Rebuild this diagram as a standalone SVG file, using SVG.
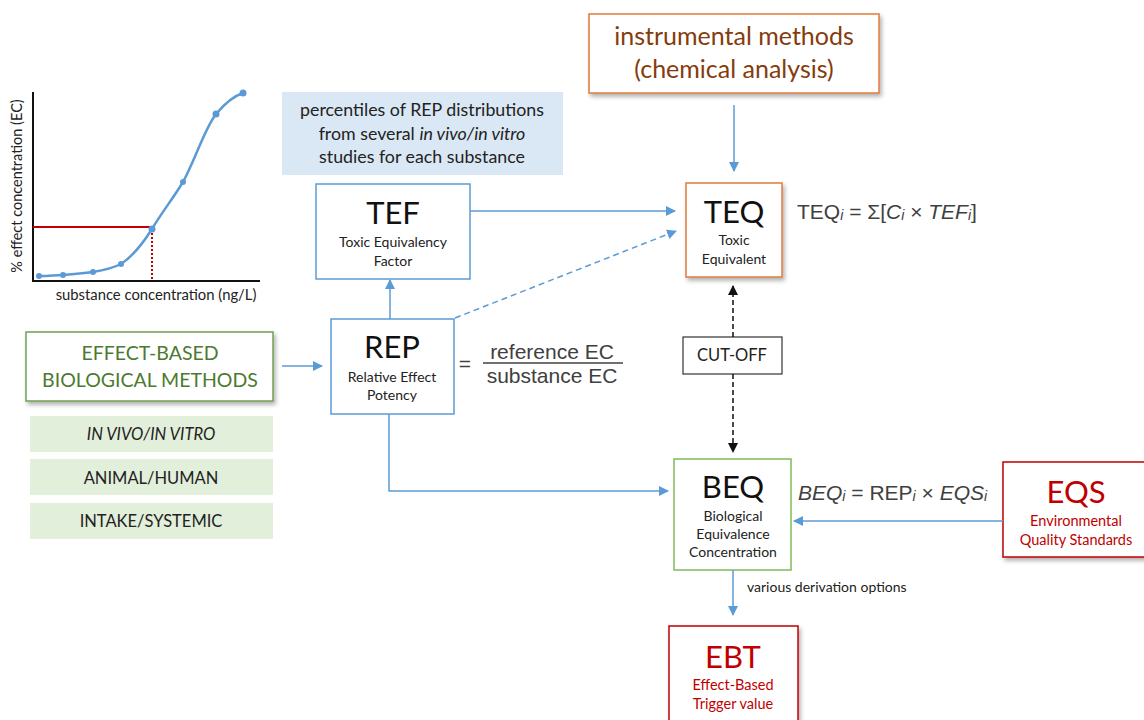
<svg xmlns="http://www.w3.org/2000/svg" width="1144" height="720" viewBox="0 0 1144 720">
<style>
text{font-family:Lato,"Open Sans","Liberation Sans",sans-serif;text-anchor:middle}
.big{font-size:31px;fill:#111}
.small{font-size:14px;fill:#222}
.f{font-family:"Liberation Sans",Arial,sans-serif;font-size:21px;fill:#404040;text-anchor:start}
.box{fill:#fff}
.blue{stroke:#5b9bd5;stroke-width:1.5}
.conn{stroke:#5b9bd5;stroke-width:1.5;fill:none}
.green{fill:#e2efda}
.gt{font-size:16.5px;fill:#222}
</style>
<defs>
<marker id="ab" viewBox="0 0 10 10" refX="9" refY="5" markerWidth="10" markerHeight="10" markerUnits="userSpaceOnUse" orient="auto"><path d="M0,0 L10,5 L0,10 z" fill="#5b9bd5"/></marker>
<marker id="ak" viewBox="0 0 10 10" refX="9" refY="5" markerWidth="10" markerHeight="10" markerUnits="userSpaceOnUse" orient="auto"><path d="M0,0 L10,5 L0,10 z" fill="#111"/></marker>
<filter id="sh" x="-10%" y="-10%" width="130%" height="140%"><feDropShadow dx="2" dy="3" stdDeviation="2" flood-color="#000" flood-opacity="0.3"/></filter>
</defs>

<g id="chart">
<line x1="33" y1="92" x2="33" y2="282" stroke="#111" stroke-width="2"/>
<line x1="32" y1="281" x2="260" y2="281" stroke="#111" stroke-width="2"/>
<line x1="33" y1="227" x2="152" y2="227" stroke="#c00000" stroke-width="2"/>
<line x1="152" y1="229" x2="152" y2="281" stroke="#c00000" stroke-width="2" stroke-dasharray="2,2"/>
<path d="M39,276 C50,276 55,275 63,275 C75,274 85,273 93,272 C105,270 113,268 121,264 C135,255 145,240 152,229 C162,212 172,200 183,182 C196,158 204,130 216,114 C226,102 234,96 243,93" fill="none" stroke="#5b9bd5" stroke-width="2.5"/>
<g fill="#5b9bd5">
<circle cx="39" cy="276" r="3"/><circle cx="63" cy="275" r="3"/><circle cx="93" cy="272" r="3"/><circle cx="121" cy="264" r="3"/><circle cx="152" cy="229" r="3.5"/><circle cx="183" cy="182" r="3"/><circle cx="216" cy="114" r="3.5"/><circle cx="243" cy="93" r="3.5"/>
</g>
<text x="156" y="300" style="font-size:14.8px;fill:#222">substance concentration (ng/L)</text>
<text transform="translate(22,186) rotate(-90)" style="font-size:14.5px;fill:#222">% effect concentration (EC)</text>
</g>

<g id="percentiles">
<rect x="282" y="92" width="281" height="83" fill="#dae8f5"/>
<text x="422" y="116" style="font-size:17.8px;fill:#222">percentiles of REP distributions</text>
<text x="422" y="140" style="font-size:17.8px;fill:#222">from several <tspan font-style="italic">in vivo/in vitro</tspan></text>
<text x="422" y="163" style="font-size:17.8px;fill:#222">studies for each substance</text>
</g>

<g id="TEF">
<rect x="316" y="184" width="154" height="95" class="box blue"/>
<text x="393" y="224" class="big">TEF</text>
<text x="393" y="247" class="small">Toxic Equivalency</text>
<text x="393" y="266" class="small">Factor</text>
</g>

<g id="instrumental">
<rect x="589" y="14" width="290" height="79" fill="#fff" stroke="#e07b39" stroke-width="1.5" filter="url(#sh)"/>
<text x="734" y="45" style="font-size:25px;fill:#843c0c">instrumental methods</text>
<text x="734" y="78" style="font-size:25px;fill:#843c0c">(chemical analysis)</text>
</g>

<g id="TEQ">
<rect x="686" y="183" width="96" height="94" fill="#fff" stroke="#e07b39" stroke-width="1.5" filter="url(#sh)"/>
<text x="734" y="223" class="big">TEQ</text>
<text x="734" y="245" class="small">Toxic</text>
<text x="734" y="264" class="small">Equivalent</text>
<text x="797" y="219" class="f">TEQ<tspan font-size="14" font-style="italic" dy="1">i</tspan><tspan dy="-1"> = Σ[</tspan><tspan font-style="italic">C</tspan><tspan font-size="14" font-style="italic" dy="1">i</tspan><tspan dy="-1"> × </tspan><tspan font-style="italic">TEF</tspan><tspan font-size="14" font-style="italic" dy="1">i</tspan><tspan dy="-1">]</tspan></text>
</g>

<g id="REP">
<rect x="331" y="319" width="123" height="95" class="box blue"/>
<text x="392" y="358" class="big">REP</text>
<text x="392" y="382" class="small">Relative Effect</text>
<text x="392" y="400" class="small">Potency</text>
<text x="465" y="371" style="font-family:'Liberation Sans',Arial,sans-serif;font-size:21px;fill:#404040">=</text>
<text x="552" y="359" style="font-family:'Liberation Sans',Arial,sans-serif;font-size:21px;fill:#404040">reference EC</text>
<line x1="483" y1="363" x2="623" y2="363" stroke="#404040" stroke-width="1.5"/>
<text x="552" y="383" style="font-family:'Liberation Sans',Arial,sans-serif;font-size:21px;fill:#404040">substance EC</text>
</g>

<g id="effect-based">
<rect x="26" y="332" width="247" height="69" fill="#fff" stroke="#70a050" stroke-width="1.5" filter="url(#sh)"/>
<text x="150" y="360" style="font-size:19.5px;fill:#4b7a30">EFFECT-BASED</text>
<text x="150" y="387" style="font-size:19.5px;fill:#4b7a30">BIOLOGICAL METHODS</text>
</g>

<g id="invivo"><rect x="30" y="416" width="243" height="36" class="green"/><text x="151" y="440" class="gt" font-style="italic">IN VIVO/IN VITRO</text></g>
<g id="animal"><rect x="30" y="459" width="243" height="36" class="green"/><text x="151" y="484" class="gt">ANIMAL/HUMAN</text></g>
<g id="intake"><rect x="30" y="503" width="243" height="36" class="green"/><text x="151" y="527" class="gt">INTAKE/SYSTEMIC</text></g>

<g id="cutoff">
<rect x="683" y="337" width="99" height="37" fill="#fff" stroke="#333" stroke-width="1.2"/>
<text x="732" y="361" style="font-size:16.5px;fill:#222">CUT-OFF</text>
</g>

<g id="BEQ">
<rect x="674" y="459" width="117" height="111" fill="#fff" stroke="#7dbb5a" stroke-width="1.5"/>
<text x="733" y="498" class="big">BEQ</text>
<text x="733" y="521" class="small">Biological</text>
<text x="733" y="539" class="small">Equivalence</text>
<text x="733" y="557" class="small">Concentration</text>
<text x="798" y="500" class="f"><tspan font-style="italic">BEQ</tspan><tspan font-size="14" font-style="italic" dy="1">i</tspan><tspan dy="-1"> = REP</tspan><tspan font-size="14" font-style="italic" dy="1">i</tspan><tspan dy="-1"> × </tspan><tspan font-style="italic">EQS</tspan><tspan font-size="14" font-style="italic" dy="1">i</tspan></text>
</g>

<g id="EQS">
<rect x="1003" y="462" width="150" height="95" fill="#fff" stroke="#c00000" stroke-width="1.5" filter="url(#sh)"/>
<text x="1076" y="503" style="font-size:31px;fill:#c00000">EQS</text>
<text x="1076" y="526" style="font-size:14.5px;fill:#c00000">Environmental</text>
<text x="1076" y="545" style="font-size:14.5px;fill:#c00000">Quality Standards</text>
</g>

<g id="EBT">
<rect x="669" y="626" width="129" height="100" fill="#fff" stroke="#c00000" stroke-width="1.5" filter="url(#sh)"/>
<text x="733" y="668" style="font-size:31px;fill:#c00000">EBT</text>
<text x="733" y="690" style="font-size:14.5px;fill:#c00000">Effect-Based</text>
<text x="733" y="709" style="font-size:14.5px;fill:#c00000">Trigger value</text>
</g>

<g id="connectors">
<line x1="470" y1="211" x2="675" y2="211" class="conn" marker-end="url(#ab)"/>
<line x1="734" y1="105" x2="734" y2="171" class="conn" marker-end="url(#ab)"/>
<line x1="455" y1="318" x2="676" y2="231" class="conn" stroke-dasharray="6,4" marker-end="url(#ab)"/>
<line x1="390" y1="319" x2="390" y2="280" class="conn" marker-end="url(#ab)"/>
<line x1="282" y1="366" x2="322" y2="366" class="conn" marker-end="url(#ab)"/>
<path d="M389,414 V491 H668" class="conn" marker-end="url(#ab)"/>
<line x1="1003" y1="521" x2="794" y2="521" class="conn" marker-end="url(#ab)"/>
<line x1="733" y1="570" x2="733" y2="615" class="conn" marker-end="url(#ab)"/>
<line x1="733" y1="337" x2="733" y2="286" stroke="#111" stroke-width="1.5" stroke-dasharray="5,3" marker-end="url(#ak)"/>
<line x1="733" y1="374" x2="733" y2="452" stroke="#111" stroke-width="1.5" stroke-dasharray="5,3" marker-end="url(#ak)"/>
<text x="747" y="592" style="font-size:14px;fill:#222;text-anchor:start">various derivation options</text>
</g>
</svg>
